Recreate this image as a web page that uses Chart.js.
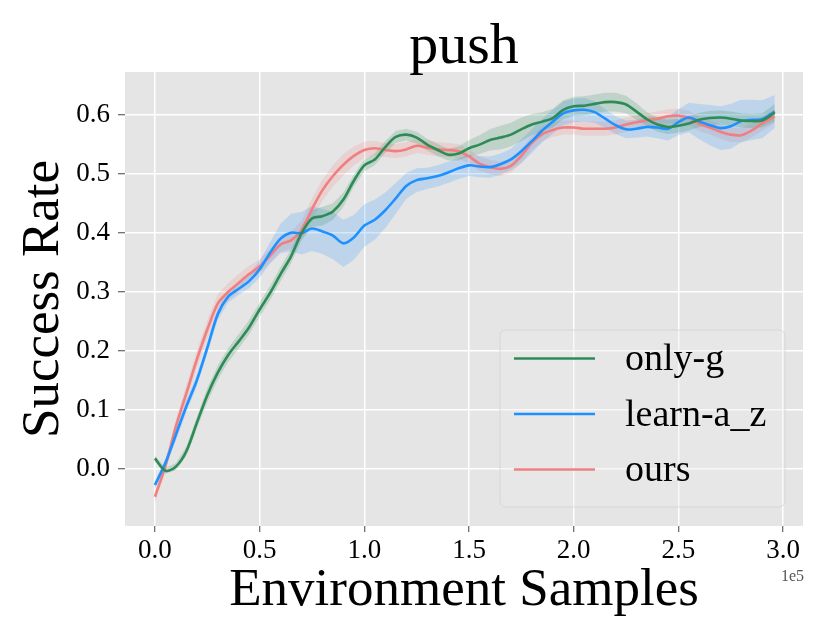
<!DOCTYPE html>
<html>
	<head>
		<meta charset="UTF-8" />
		<title>push</title>
		<style type="text/css">
			body { margin: 0; background: #ffffff; }
			.chartBox { width: 830px; height: 639px; }
		</style>
	</head>
	<body>
		<div class="chartBox">
			<canvas id="myChart" width="830" height="639"></canvas>
		</div>
		<script src="https://cdn.jsdelivr.net/npm/chart.js"></script>
		<script>
			// environment samples (x 1e5)
			const samples = [0.00, 0.05, 0.10, 0.15, 0.20, 0.25, 0.30, 0.35, 0.40, 0.45,
				0.50, 0.55, 0.60, 0.65, 0.70, 0.75, 0.80, 0.85, 0.90, 0.95,
				1.00, 1.05, 1.10, 1.15, 1.20, 1.25, 1.30, 1.35, 1.40, 1.45,
				1.50, 1.55, 1.60, 1.65, 1.70, 1.75, 1.80, 1.85, 1.90, 1.95,
				2.00, 2.05, 2.10, 2.15, 2.20, 2.25, 2.30, 2.35, 2.40, 2.45,
				2.50, 2.55, 2.60, 2.65, 2.70, 2.75, 2.80, 2.85, 2.90, 2.96];

			const onlyG = [0.018, -0.003, 0.004, 0.030, 0.078, 0.125, 0.163, 0.193, 0.216, 0.240,
				0.270, 0.298, 0.330, 0.360, 0.399, 0.424, 0.428, 0.436, 0.456, 0.488,
				0.514, 0.524, 0.545, 0.562, 0.566, 0.561, 0.549, 0.540, 0.532, 0.534,
				0.543, 0.549, 0.557, 0.561, 0.566, 0.575, 0.583, 0.588, 0.594, 0.608,
				0.614, 0.615, 0.618, 0.621, 0.621, 0.617, 0.605, 0.592, 0.583, 0.579,
				0.581, 0.585, 0.591, 0.594, 0.595, 0.593, 0.590, 0.589, 0.590, 0.603];
			const onlyGSpread = [0.005, 0.005, 0.006, 0.008, 0.010, 0.012, 0.012, 0.012, 0.012, 0.012,
				0.012, 0.012, 0.012, 0.012, 0.012, 0.014, 0.016, 0.014, 0.012, 0.010,
				0.010, 0.010, 0.010, 0.010, 0.010, 0.010, 0.010, 0.010, 0.010, 0.012,
				0.014, 0.016, 0.018, 0.020, 0.020, 0.020, 0.018, 0.016, 0.016, 0.016,
				0.016, 0.016, 0.016, 0.016, 0.016, 0.015, 0.014, 0.012, 0.012, 0.012,
				0.012, 0.012, 0.012, 0.012, 0.012, 0.012, 0.012, 0.012, 0.012, 0.015];

			const learnAZ = [-0.027, 0.010, 0.058, 0.106, 0.150, 0.205, 0.262, 0.292, 0.305, 0.318,
				0.338, 0.366, 0.390, 0.400, 0.399, 0.407, 0.402, 0.395, 0.382, 0.392,
				0.412, 0.422, 0.438, 0.458, 0.479, 0.489, 0.492, 0.496, 0.502, 0.509,
				0.514, 0.512, 0.511, 0.516, 0.524, 0.538, 0.555, 0.573, 0.588, 0.602,
				0.607, 0.608, 0.604, 0.593, 0.582, 0.575, 0.576, 0.579, 0.578, 0.576,
				0.587, 0.595, 0.588, 0.582, 0.577, 0.580, 0.589, 0.591, 0.592, 0.605];
			const learnAZSpread = [0.006, 0.008, 0.010, 0.010, 0.010, 0.010, 0.010, 0.010, 0.010, 0.012,
				0.014, 0.018, 0.025, 0.032, 0.036, 0.038, 0.038, 0.040, 0.040, 0.038,
				0.036, 0.034, 0.030, 0.026, 0.022, 0.020, 0.018, 0.018, 0.018, 0.018,
				0.018, 0.018, 0.018, 0.018, 0.018, 0.020, 0.020, 0.020, 0.020, 0.020,
				0.020, 0.020, 0.018, 0.016, 0.015, 0.015, 0.015, 0.016, 0.018, 0.020,
				0.022, 0.025, 0.030, 0.034, 0.037, 0.038, 0.036, 0.034, 0.032, 0.028];

			const ours = [-0.047, 0.005, 0.072, 0.128, 0.185, 0.236, 0.280, 0.300, 0.315, 0.330,
				0.343, 0.361, 0.380, 0.387, 0.404, 0.440, 0.472, 0.496, 0.515, 0.530,
				0.540, 0.543, 0.540, 0.538, 0.541, 0.547, 0.544, 0.541, 0.540, 0.538,
				0.529, 0.517, 0.511, 0.508, 0.513, 0.530, 0.552, 0.567, 0.574, 0.578,
				0.578, 0.576, 0.576, 0.576, 0.578, 0.583, 0.587, 0.590, 0.593, 0.597,
				0.598, 0.594, 0.584, 0.578, 0.571, 0.566, 0.565, 0.573, 0.585, 0.597];
			const oursSpread = [0.010, 0.010, 0.012, 0.014, 0.015, 0.016, 0.016, 0.015, 0.015, 0.014,
				0.012, 0.012, 0.012, 0.014, 0.016, 0.018, 0.018, 0.018, 0.018, 0.016,
				0.014, 0.012, 0.012, 0.012, 0.012, 0.012, 0.012, 0.012, 0.012, 0.012,
				0.012, 0.012, 0.012, 0.012, 0.012, 0.012, 0.012, 0.012, 0.012, 0.012,
				0.012, 0.012, 0.012, 0.012, 0.012, 0.012, 0.012, 0.012, 0.012, 0.012,
				0.012, 0.012, 0.012, 0.012, 0.012, 0.012, 0.012, 0.012, 0.012, 0.012];

			const xTicks = [0.0, 0.5, 1.0, 1.5, 2.0, 2.5, 3.0];
			const yTicks = [0.0, 0.1, 0.2, 0.3, 0.4, 0.5, 0.6];

			const serif = "'Liberation Serif', 'DejaVu Serif', serif";

			function pts(ys) {
				return samples.map((x, i) => ({ x: x, y: ys[i] }));
			}
			function band(ys, sp, sign) {
				return samples.map((x, i) => ({ x: x, y: ys[i] + sign * sp[i] }));
			}
			function bandSets(ys, sp, color) {
				return [{
					label: '', data: band(ys, sp, 1), borderWidth: 0, pointRadius: 0,
					backgroundColor: color, fill: '+1', order: 2, isBand: true
				}, {
					label: '', data: band(ys, sp, -1), borderWidth: 0, pointRadius: 0,
					backgroundColor: color, fill: false, order: 2, isBand: true
				}];
			}

			const data = {
				datasets: [
					{ label: 'only-g', data: pts(onlyG), borderColor: '#2e8b57', borderWidth: 2.6, pointRadius: 0, tension: 0.3, fill: false, order: 1 },
					{ label: 'learn-a_z', data: pts(learnAZ), borderColor: '#1e90ff', borderWidth: 2.6, pointRadius: 0, tension: 0.3, fill: false, order: 1 },
					{ label: 'ours', data: pts(ours), borderColor: '#f08080', borderWidth: 2.6, pointRadius: 0, tension: 0.3, fill: false, order: 1 },
					...bandSets(onlyG, onlyGSpread, 'rgba(46, 139, 87, 0.2)'),
					...bandSets(learnAZ, learnAZSpread, 'rgba(30, 144, 255, 0.2)'),
					...bandSets(ours, oursSpread, 'rgba(240, 128, 128, 0.2)')
				]
			};

			// grey panel, title, offset text and legend
			const decor = {
				id: 'decor',
				beforeDraw(chart) {
					const { ctx, chartArea: a } = chart;
					ctx.save();
					ctx.fillStyle = '#e5e5e5';
					ctx.fillRect(a.left, a.top, a.right - a.left, a.bottom - a.top);
					ctx.restore();
				},
				afterDraw(chart) {
					const { ctx, chartArea: a } = chart;
					ctx.save();
					ctx.fillStyle = '#000';
					ctx.font = '58px ' + serif;
					ctx.textAlign = 'center';
					ctx.textBaseline = 'alphabetic';
					ctx.fillText('push', (a.left + a.right) / 2, 63);

					ctx.fillStyle = '#555';
					ctx.font = '16px ' + serif;
					ctx.textAlign = 'right';
					ctx.textBaseline = 'middle';
					ctx.fillText('1e5', 804, 577);

					// legend
					const bx = 500, by = 330, bw = 285, bh = 177;
					ctx.beginPath();
					ctx.roundRect(bx, by, bw, bh, 6);
					ctx.fillStyle = 'rgba(235, 235, 235, 0.35)';
					ctx.fill();
					ctx.strokeStyle = 'rgba(205, 205, 205, 0.6)';
					ctx.lineWidth = 1;
					ctx.stroke();
					const lines = chart.data.datasets.filter(d => !d.isBand);
					ctx.font = '38px ' + serif;
					ctx.textAlign = 'left';
					lines.forEach((d, i) => {
						const y = 358.5 + i * 55.5;
						ctx.strokeStyle = d.borderColor;
						ctx.lineWidth = 2.6;
						ctx.beginPath();
						ctx.moveTo(514, y);
						ctx.lineTo(595, y);
						ctx.stroke();
						ctx.fillStyle = '#000';
						ctx.fillText(d.label, 625, y + 2);
					});
					ctx.restore();
				}
			};

			const config = {
				type: 'line',
				data,
				options: {
					responsive: false,
					animation: false,
					devicePixelRatio: 1,
					layout: { padding: { top: 72, right: 27, left: 0, bottom: 0 } },
					plugins: {
						legend: { display: false },
						tooltip: { enabled: false }
					},
					scales: {
						x: {
							type: 'linear',
							min: -0.143,
							max: 3.095,
							afterBuildTicks: s => { s.ticks = xTicks.map(v => ({ value: v })); },
							afterFit: s => { s.height = 113; },
							grid: { color: '#ffffff', lineWidth: 1.5, tickColor: '#444', tickLength: 6, tickWidth: 1 },
							border: { display: false },
							ticks: {
								padding: 3,
								color: '#000',
								font: { family: serif, size: 27 },
								callback: v => v.toFixed(1)
							},
							title: {
								display: true,
								text: 'Environment Samples',
								color: '#000',
								font: { family: serif, size: 53 },
								padding: { top: 0, bottom: 16 }
							}
						},
						y: {
							min: -0.0965,
							max: 0.672,
							afterBuildTicks: s => { s.ticks = yTicks.map(v => ({ value: v })); },
							afterFit: s => { s.width = 125; },
							grid: { color: '#ffffff', lineWidth: 1.5, tickColor: '#444', tickLength: 7, tickWidth: 1 },
							border: { display: false },
							ticks: {
								padding: 8,
								color: '#000',
								font: { family: serif, size: 27 },
								callback: v => v.toFixed(1)
							},
							title: {
								display: true,
								text: 'Success Rate',
								color: '#000',
								font: { family: serif, size: 53 },
								padding: { top: 12, bottom: 0 }
							}
						}
					}
				},
				plugins: [decor]
			};

			const myChart = new Chart(document.getElementById('myChart'), config);
		</script>
	</body>
</html>
